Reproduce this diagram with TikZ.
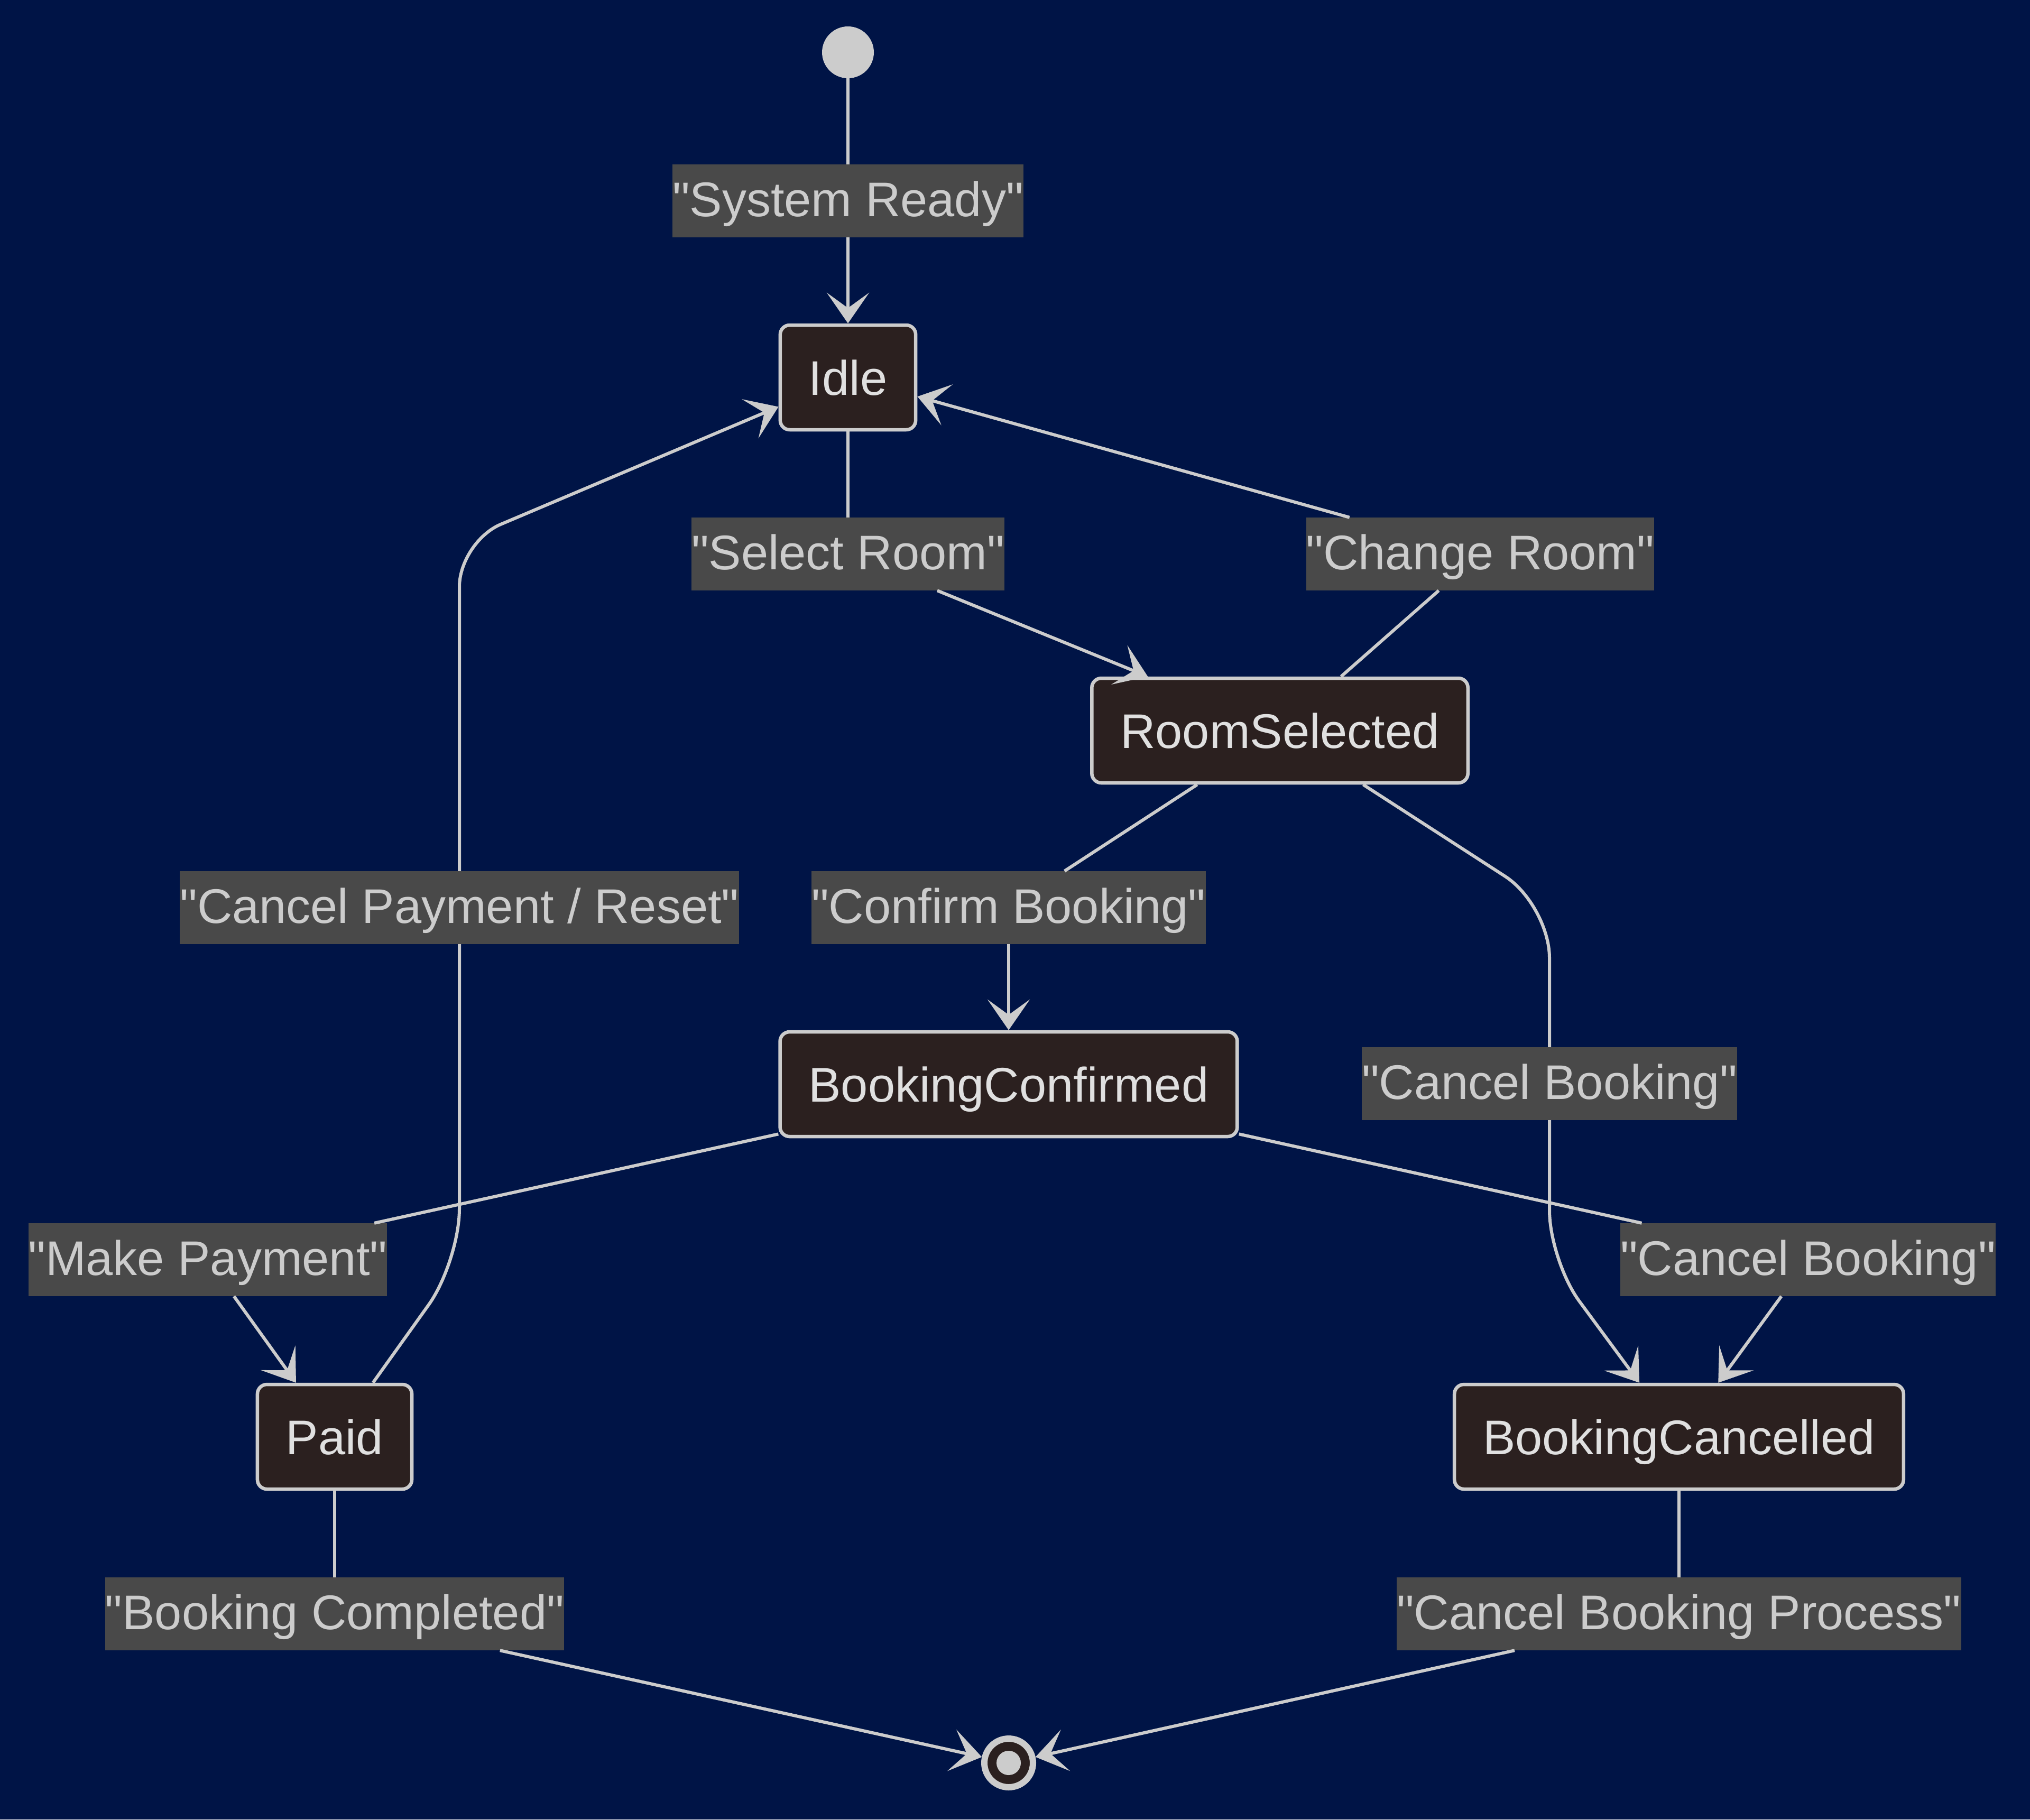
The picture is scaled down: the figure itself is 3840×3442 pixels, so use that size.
\documentclass[tikz,border=0pt]{standalone}
\usepackage{fontspec}
\setmainfont{Liberation Sans}[Ligatures=TeXOff]
\usetikzlibrary{arrows.meta}
\definecolor{bgc}{HTML}{001446}
\definecolor{strokec}{HTML}{CCCCCC}
\definecolor{statefill}{HTML}{2B201F}
\definecolor{lblfill}{HTML}{494949}
\definecolor{statetext}{HTML}{E0E0E0}
\definecolor{lbltext}{HTML}{CCCCCC}
\newcommand{\mydq}{\char34\relax}
\begin{document}
\begin{tikzpicture}[x=1pt,y=-1pt,
  state/.style={draw=strokec, fill=statefill, line width=6.5pt, rounded corners=18pt,
    minimum height=198pt, inner xsep=54pt, inner ysep=0pt, text height=66pt, text depth=0pt,
    text=statetext, font=\fontsize{92}{110}\selectfont},
  lbl/.style={fill=lblfill, inner xsep=0pt, inner ysep=0pt, minimum height=138pt,
    text height=66pt, text depth=8pt, text=lbltext, font=\fontsize{92}{110}\selectfont},
  conn/.style={draw=strokec, line width=6pt},
  arr/.style={conn, -{Stealth[length=58pt,width=80pt,inset=29pt]}},
]
\useasboundingbox (0,0) rectangle (3840,3442);
\fill[bgc] (0,0) rectangle (3840,3442);

% states
\node[circle, fill=strokec, minimum size=98pt, inner sep=0pt, outer sep=0pt] (start) at (1604,99) {};
\node[state] (idle) at (1604,714) {Idle};
\node[state] (rs) at (2421,1382) {RoomSelected};
\node[state] (bc) at (1908,2051) {BookingConfirmed};
\node[state] (paid) at (633,2718) {Paid};
\node[state] (bcan) at (3176,2718) {BookingCancelled};
\node[circle, draw=strokec, fill=statefill, line width=12pt, minimum size=92pt, inner sep=0pt,
  path picture={\fill[strokec] (path picture bounding box.center) circle (23pt);}] (endn) at (1908,3335) {};

% labels
\node[lbl] (lSR) at (1604,380) {\mydq System Ready\mydq};
\node[lbl] (lSel) at (1604,1048) {\mydq Select Room\mydq};
\node[lbl] (lChg) at (2800,1048) {\mydq Change Room\mydq};
\node[lbl] (lCPR) at (869,1717) {\mydq Cancel Payment / Reset\mydq};
\node[lbl] (lConf) at (1908,1717) {\mydq Confirm Booking\mydq};
\node[lbl] (lCB1) at (2931,2050) {\mydq Cancel Booking\mydq};
\node[lbl] (lMP) at (393,2383) {\mydq Make Payment\mydq};
\node[lbl] (lCB2) at (3420,2383) {\mydq Cancel Booking\mydq};
\node[lbl] (lBC) at (633,3053) {\mydq Booking Completed\mydq};
\node[lbl] (lCBP) at (3176,3053) {\mydq Cancel Booking Process\mydq};

% bend points
\coordinate (cb1a) at (2931,1712);
\coordinate (cb1b) at (2931,2385);
\coordinate (cprA) at (869,2387);
\coordinate (cprB) at (869,1025);

% connectors
\draw[conn] (start) -- (lSR);
\draw[arr] (lSR) -- (idle);
\draw[conn] (idle) -- (lSel);
\draw[arr] (lSel) -- (rs);
\draw[conn] (rs) -- (lChg);
\draw[arr] (lChg) -- (idle);
\draw[conn] (rs) -- (lConf);
\draw[arr] (lConf) -- (bc);
\draw[conn, rounded corners=100pt] (rs) -- (cb1a) -- (lCB1);
\draw[arr, rounded corners=95pt] (lCB1) -- (cb1b) -- (bcan);
\draw[conn] (bc) -- (lMP);
\draw[arr] (lMP) -- (paid);
\draw[conn] (bc) -- (lCB2);
\draw[arr] (lCB2) -- (bcan);
\draw[conn, rounded corners=100pt] (paid) -- (cprA) -- (lCPR);
\draw[arr, rounded corners=85pt] (lCPR) -- (cprB) -- (idle);
\draw[conn] (paid) -- (lBC);
\draw[arr] (lBC) -- (endn);
\draw[conn] (bcan) -- (lCBP);
\draw[arr] (lCBP) -- (endn);
\end{tikzpicture}
\end{document}
